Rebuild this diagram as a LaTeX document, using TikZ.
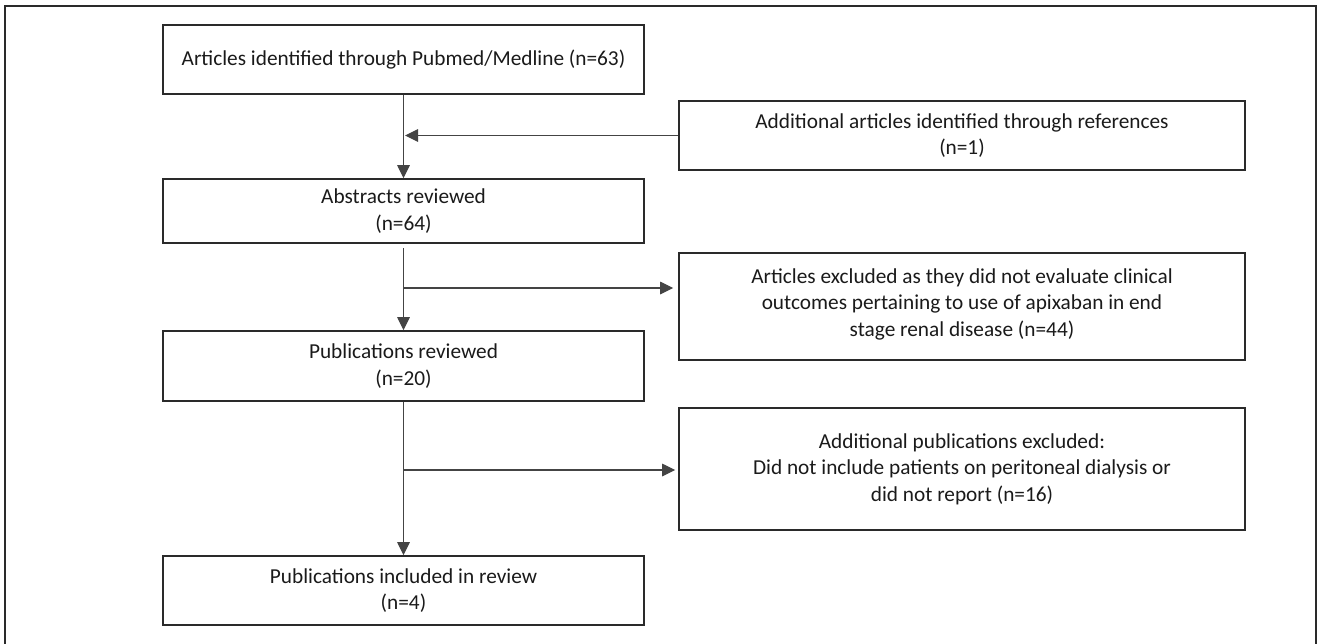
\documentclass[tikz,border=0pt]{standalone}
\usepackage{fontspec}
\setmainfont{Carlito}
\usetikzlibrary{arrows.meta,calc}
\definecolor{boxline}{HTML}{2A2A2A}
\definecolor{conline}{HTML}{444444}
\definecolor{txt}{HTML}{1A1A1A}
\tikzset{
  flowbox/.style={draw=boxline, line width=1.6pt, rectangle, align=center, text=txt,
    inner sep=0pt, font=\fontsize{21.3}{26.5}\selectfont},
  leftbox/.style={flowbox, minimum width=481pt},
  rightbox/.style={flowbox, minimum width=566pt},
  arr/.style={draw=conline, line width=1.1pt, -{Triangle[length=13pt,width=12.5pt]}},
  frameline/.style={draw=boxline, line width=2pt}
}
\begin{document}
\begin{tikzpicture}[x=1pt,y=-1pt]
\useasboundingbox (0,0) rectangle (1318,643);
\draw[frameline] (5,650) -- (5,6) -- (1316,6) -- (1316,650);

\node[leftbox, minimum height=69pt] (b1) at (403.5,59.5) {Articles identified through Pubmed/Medline (n=63)};
\node[rightbox, minimum height=69pt] (add) at (962,135.5) {Additional articles identified through references\\(n=1)};
\node[leftbox, minimum height=64pt] (b2) at (403.5,211) {Abstracts reviewed\\(n=64)};
\node[rightbox, minimum height=107pt, text depth=8pt] (ex1) at (962,306.5) {Articles excluded as they did not evaluate clinical\\outcomes pertaining to use of apixaban in end\\stage renal disease (n=44)};
\node[leftbox, minimum height=70pt] (b3) at (403.5,366) {Publications reviewed\\(n=20)};
\node[rightbox, minimum height=122pt] (ex2) at (962,469) {Additional publications excluded:\\Did not include patients on peritoneal dialysis or\\did not report (n=16)};
\node[leftbox, minimum height=69pt] (b4) at (403.5,590.5) {Publications included in review\\(n=4)};

\coordinate (j1) at (403.5,135.5);
\coordinate (s2) at (403.5,248);
\coordinate (j2) at (403.5,288);
\coordinate (j3) at (403.5,470);

\draw[arr] (b1.south) -- (b2.north);
\draw[arr, shorten >=1.5pt] (add.west) -- (j1);
\draw[arr] (s2) -- (b3.north);
\draw[arr, shorten >=5pt] (j2) -- (j2 -| ex1.west);
\draw[arr] (b3.south) -- (b4.north);
\draw[arr, shorten >=3pt] (j3) -- (j3 -| ex2.west);
\end{tikzpicture}
\end{document}
